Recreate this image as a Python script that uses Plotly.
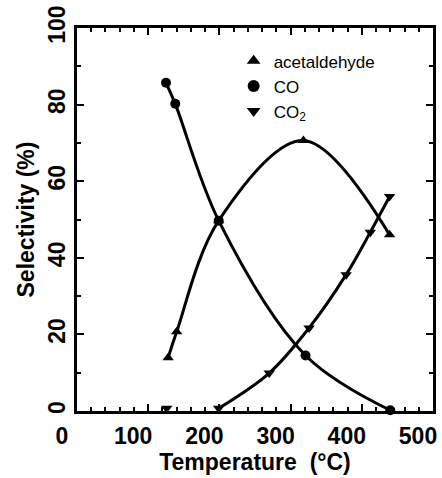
import plotly.graph_objects as go

# Data
co_x = [125, 138, 199, 321, 440]
co_y = [85.7, 80.2, 49.7, 14.5, 0.2]
acet_x = [128, 140, 199, 318, 439]
acet_y = [13.9, 20.7, 49.7, 70.6, 46.0]
co2_x = [126, 199, 270, 326, 378, 412, 439]
co2_y = [0.7, 0.7, 9.9, 21.7, 35.6, 46.7, 56.0]

x_ticks = [0, 100, 200, 300, 400, 500]
y_ticks = [0, 20, 40, 60, 80, 100]

fig = go.Figure()

line_style = dict(color="black", width=3, shape="spline", smoothing=1.0)

# fitted curves (spline through the measured points)
fig.add_trace(go.Scatter(x=acet_x, y=acet_y, mode="lines", line=line_style,
                         showlegend=False, cliponaxis=False))
fig.add_trace(go.Scatter(x=co_x, y=co_y, mode="lines", line=line_style,
                         showlegend=False, cliponaxis=False))
fig.add_trace(go.Scatter(x=co2_x[1:], y=co2_y[1:], mode="lines", line=line_style,
                         showlegend=False, cliponaxis=False))

# markers
fig.add_trace(go.Scatter(x=acet_x, y=acet_y, mode="markers", name="acetaldehyde",
                         marker=dict(symbol="triangle-up", size=10, color="black"),
                         cliponaxis=False))
fig.add_trace(go.Scatter(x=co_x, y=co_y, mode="markers", name="CO",
                         marker=dict(symbol="circle", size=10, color="black"),
                         cliponaxis=False))
fig.add_trace(go.Scatter(x=co2_x, y=co2_y, mode="markers", name="CO<sub>2</sub>",
                         marker=dict(symbol="triangle-down", size=10, color="black"),
                         cliponaxis=False))

fam = "Liberation Sans, Arial, sans-serif"
axis_font = dict(family=fam, size=23, color="black")
title_font = dict(family=fam, size=23, color="black")

fig.update_xaxes(
    range=[0, 500], tickvals=x_ticks, ticktext=[f"<b>{v}</b>" for v in x_ticks],
    ticks="inside", ticklen=7, tickwidth=2, tickcolor="black",
    minor=dict(dtick=20, ticks="inside", ticklen=4, tickwidth=1.5, tickcolor="black"),
    showline=True, linewidth=2.5, linecolor="black", mirror="allticks",
    showgrid=False, zeroline=False, tickfont=axis_font, ticklabelshift=-15,
    ticklabelstandoff=3,
    title=dict(text="<b>Temperature  (°C)</b>", font=title_font, standoff=2),
)
fig.update_yaxes(
    range=[0, 100], tickvals=y_ticks, ticktext=[f"<b>{v}</b>" for v in y_ticks],
    ticks="inside", ticklen=7, tickwidth=2, tickcolor="black", tickangle=-90,
    minor=dict(dtick=10, ticks="inside", ticklen=4, tickwidth=1.5, tickcolor="black"),
    showline=True, linewidth=2.5, linecolor="black", mirror="allticks",
    showgrid=False, zeroline=False, tickfont=axis_font,
    title=dict(text="<b>Selectivity (%)</b>", font=title_font, standoff=3),
)

fig.update_layout(
    width=442, height=478,
    margin=dict(l=77, r=5, t=26, b=67),
    paper_bgcolor="white", plot_bgcolor="white",
    showlegend=True,
    legend=dict(x=0.44, y=0.96, xanchor="left", yanchor="top",
                bgcolor="rgba(0,0,0,0)",
                font=dict(family=fam, size=17, color="black"),
                itemsizing="constant", tracegroupgap=0),
)

fig.write_html("out.html")
